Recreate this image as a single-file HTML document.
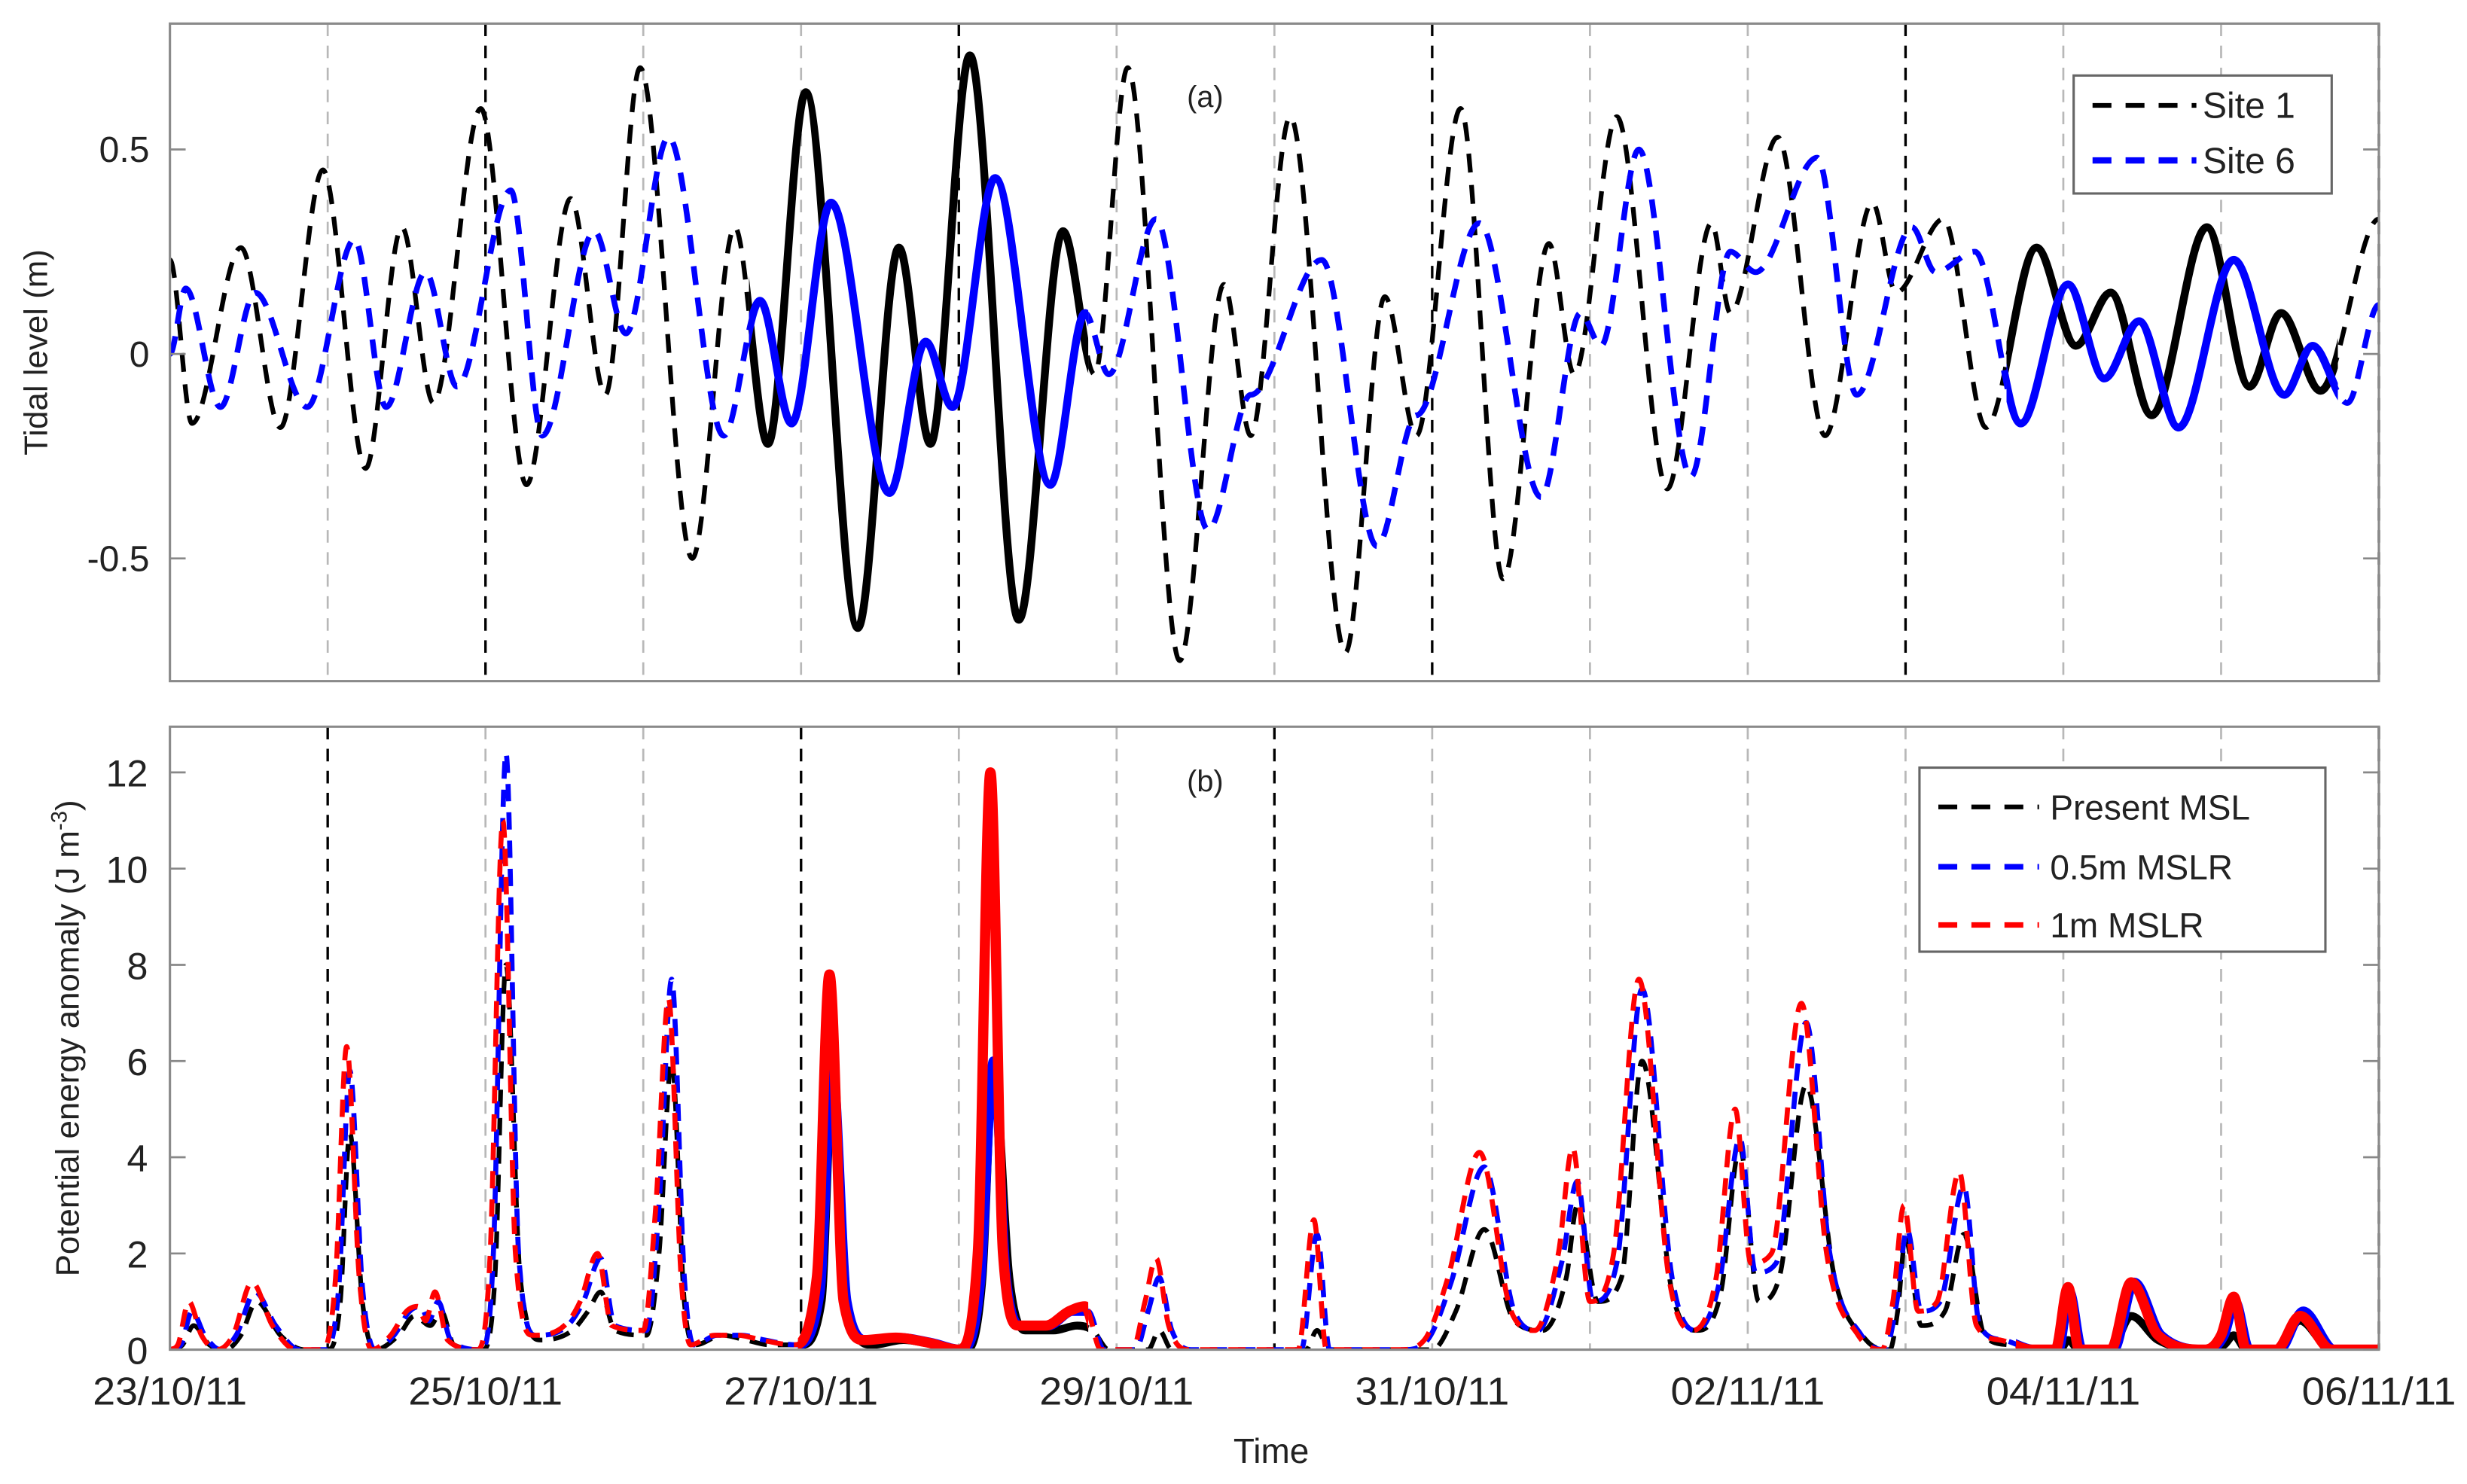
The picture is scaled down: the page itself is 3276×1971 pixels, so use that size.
<!DOCTYPE html>
<html><head><meta charset="utf-8"><style>
html,body{margin:0;padding:0;background:#fff}
svg{display:block}
text{font-family:"Liberation Sans",Arial,sans-serif;fill:#222}
</style></head><body>
<svg id="chart" width="3276" height="1971" viewBox="0 0 1568 943.4" preserveAspectRatio="none" xmlns="http://www.w3.org/2000/svg">
<defs>
<clipPath id="clipTop"><rect x="108" y="15" width="1404" height="418"/></clipPath>
<clipPath id="clipBot"><rect x="108" y="462" width="1404" height="396"/></clipPath>
</defs>
<g id="gridTop"></g>
<g id="gridBot"></g>
<g id="seriesTop" clip-path="url(#clipTop)"></g>
<g id="seriesBot" clip-path="url(#clipBot)"></g>
<rect x="108" y="15" width="1404" height="418" fill="none" stroke="#8a8a8a" stroke-width="1.5"/>
<rect x="108" y="462" width="1404" height="396" fill="none" stroke="#8a8a8a" stroke-width="1.5"/>
<g id="axes"></g>
<text transform="translate(30,224) rotate(-90)" text-anchor="middle" font-size="21">Tidal level (m)</text>
<text transform="translate(50,660) rotate(-90)" text-anchor="middle" font-size="21">Potential energy anomaly (J m<tspan baseline-shift="super" font-size="14">-3</tspan>)</text>
<text x="808" y="930" text-anchor="middle" font-size="22">Time</text>
<text x="766" y="68" text-anchor="middle" font-size="19">(a)</text>
<text x="766" y="503" text-anchor="middle" font-size="19">(b)</text>
<g>
<rect x="1318" y="48" width="164" height="75" fill="#fff" stroke="#666" stroke-width="1.5"/>
<line x1="1330" y1="67" x2="1396" y2="67" stroke="#000" stroke-width="3" stroke-dasharray="12 9"/>
<text x="1400" y="75" font-size="23">Site 1</text>
<line x1="1330" y1="102" x2="1396" y2="102" stroke="#0000ff" stroke-width="4" stroke-dasharray="12 9"/>
<text x="1400" y="110" font-size="23">Site 6</text>
</g>
<g>
<rect x="1220" y="488" width="258" height="117" fill="#fff" stroke="#666" stroke-width="1.5"/>
<line x1="1232" y1="513" x2="1296" y2="513" stroke="#000" stroke-width="3" stroke-dasharray="12 9"/>
<text x="1303" y="521" font-size="22">Present MSL</text>
<line x1="1232" y1="551" x2="1296" y2="551" stroke="#0000ff" stroke-width="3.5" stroke-dasharray="12 9"/>
<text x="1303" y="559" font-size="22">0.5m MSLR</text>
<line x1="1232" y1="588" x2="1296" y2="588" stroke="#ff0000" stroke-width="3.5" stroke-dasharray="12 9"/>
<text x="1303" y="596" font-size="22">1m MSLR</text>
</g>
</svg>
<script>
// ---- data ----
const xTickLabels = ["23/10/11","25/10/11","27/10/11","29/10/11","31/10/11","02/11/11","04/11/11","06/11/11"];
const topYTicks = [-0.5, 0, 0.5];
const topYTickLabels = ["-0.5","0","0.5"];
const botYTicks = [0,2,4,6,8,10,12];
const topBlackDays = [2,5,8,11,14];
const botBlackDays = [1,4,7,14];
const topSolidRanges = [[3.67,5.82],[11.64,13.74]];
const botSolidRanges = [[3.98,5.82],[11.7,14]];
// tidal extremes [day, metres]
const site1 = [[0,0.23],[0.14,-0.17],[0.45,0.26],[0.7,-0.18],[0.97,0.45],[1.24,-0.28],[1.47,0.31],[1.67,-0.12],[1.97,0.6],[2.26,-0.32],[2.54,0.38],[2.76,-0.1],[2.98,0.7],[3.31,-0.5],[3.58,0.31],[3.79,-0.22],[4.03,0.64],[4.36,-0.67],[4.62,0.26],[4.82,-0.22],[5.07,0.73],[5.38,-0.65],[5.66,0.3],[5.86,-0.05],[6.07,0.7],[6.4,-0.75],[6.68,0.17],[6.85,-0.2],[7.1,0.58],[7.45,-0.73],[7.7,0.14],[7.9,-0.2],[8.18,0.6],[8.45,-0.55],[8.74,0.27],[8.9,-0.05],[9.17,0.58],[9.49,-0.33],[9.77,0.32],[9.89,0.1],[10.19,0.53],[10.49,-0.2],[10.79,0.37],[10.94,0.15],[11.24,0.33],[11.51,-0.18],[11.83,0.26],[12.08,0.02],[12.3,0.15],[12.56,-0.15],[12.91,0.31],[13.18,-0.08],[13.38,0.1],[13.63,-0.09],[14,0.33]];
const site6 = [[0,0.0],[0.1,0.16],[0.32,-0.13],[0.54,0.15],[0.87,-0.13],[1.17,0.28],[1.37,-0.13],[1.62,0.2],[1.82,-0.08],[2.16,0.4],[2.36,-0.2],[2.69,0.3],[2.89,0.05],[3.16,0.53],[3.51,-0.2],[3.74,0.13],[3.94,-0.17],[4.19,0.37],[4.56,-0.34],[4.79,0.03],[4.96,-0.13],[5.23,0.43],[5.58,-0.32],[5.8,0.1],[5.95,-0.05],[6.25,0.33],[6.58,-0.43],[6.85,-0.1],[7.3,0.23],[7.65,-0.47],[7.9,-0.15],[8.3,0.32],[8.69,-0.35],[8.94,0.1],[9.07,0.02],[9.31,0.5],[9.64,-0.3],[9.89,0.25],[10.05,0.2],[10.44,0.48],[10.69,-0.1],[11.04,0.31],[11.19,0.2],[11.44,0.25],[11.73,-0.17],[12.03,0.17],[12.26,-0.06],[12.48,0.08],[12.73,-0.18],[13.08,0.23],[13.4,-0.1],[13.58,0.02],[13.8,-0.12],[14,0.12]];
// PEA [day, J m^-3]
const peaRed = [[0,0],[0.05,0.1],[0.12,1.0],[0.2,0.3],[0.3,0],[0.4,0.3],[0.52,1.4],[0.65,0.5],[0.8,0],[0.97,0],[1.05,1.5],[1.12,6.3],[1.2,1.5],[1.28,0],[1.4,0.3],[1.5,0.8],[1.57,0.9],[1.62,0.6],[1.68,1.2],[1.76,0.2],[1.95,0],[2.03,2],[2.11,11],[2.19,2],[2.3,0.3],[2.5,0.5],[2.6,1.0],[2.71,2.0],[2.8,0.5],[3.0,0.4],[3.08,3],[3.16,7.3],[3.24,1.5],[3.3,0.1],[3.45,0.3],[3.6,0.3],[3.75,0.2],[3.95,0.1],[4.1,1.5],[4.18,7.8],[4.27,1],[4.4,0.2],[4.6,0.25],[4.8,0.15],[5.0,0],[5.12,2],[5.2,12],[5.28,2],[5.38,0.5],[5.55,0.5],[5.7,0.8],[5.8,0.9],[5.9,0],[6.1,0],[6.18,1],[6.25,1.9],[6.33,0.5],[6.45,0],[7.15,0],[7.25,2.7],[7.33,0],[7.8,0],[7.95,0.2],[8.1,1.5],[8.3,4.1],[8.5,0.8],[8.65,0.4],[8.8,2],[8.89,4.2],[9.0,1.0],[9.15,2],[9.31,7.7],[9.5,1.5],[9.65,0.4],[9.8,1.5],[9.92,5.0],[10.02,1.8],[10.15,2],[10.34,7.2],[10.5,2],[10.7,0.3],[10.85,0],[10.92,1],[10.99,3.0],[11.08,0.8],[11.2,1],[11.34,3.7],[11.45,0.5],[11.6,0.2],[11.8,0],[11.95,0],[12.03,1.3],[12.1,0],[12.3,0],[12.43,1.4],[12.6,0.3],[12.9,0],[13.0,0.3],[13.08,1.1],[13.16,0],[13.35,0],[13.5,0.7],[13.7,0],[14,0]];
const peaBlue = [[0,0],[0.07,0.1],[0.14,0.8],[0.22,0.3],[0.32,0],[0.42,0.3],[0.54,1.2],[0.67,0.5],[0.82,0],[0.99,0],[1.07,1.3],[1.14,5.8],[1.22,1.3],[1.3,0],[1.42,0.3],[1.52,0.8],[1.59,0.9],[1.64,0.6],[1.7,1.0],[1.78,0.2],[1.97,0],[2.05,2],[2.13,12.4],[2.21,2],[2.32,0.3],[2.52,0.5],[2.62,1.0],[2.73,1.9],[2.82,0.5],[3.02,0.4],[3.1,3],[3.18,7.7],[3.26,1.5],[3.32,0.1],[3.47,0.3],[3.62,0.3],[3.77,0.2],[3.97,0.1],[4.12,1.2],[4.2,5.8],[4.29,1],[4.42,0.2],[4.62,0.25],[4.82,0.15],[5.02,0],[5.14,1.5],[5.22,6],[5.3,1.5],[5.4,0.5],[5.57,0.5],[5.72,0.8],[5.82,0.8],[5.92,0],[6.12,0],[6.2,0.8],[6.27,1.5],[6.35,0.4],[6.47,0],[7.17,0],[7.27,2.4],[7.35,0],[7.82,0],[7.97,0.2],[8.12,1.4],[8.33,3.8],[8.52,0.8],[8.67,0.4],[8.82,1.8],[8.92,3.5],[9.02,1.0],[9.17,1.8],[9.33,7.5],[9.52,1.5],[9.67,0.4],[9.82,1.4],[9.95,4.4],[10.05,1.6],[10.18,1.8],[10.37,6.8],[10.52,2],[10.72,0.3],[10.87,0],[10.94,0.9],[11.01,2.5],[11.1,0.8],[11.22,1],[11.37,3.4],[11.47,0.5],[11.62,0.2],[11.82,0],[11.97,0],[12.04,1.2],[12.12,0],[12.32,0],[12.45,1.4],[12.62,0.3],[12.92,0],[13.02,0.3],[13.09,1.0],[13.18,0],[13.37,0],[13.52,0.8],[13.72,0],[14,0]];
const peaBlack = [[0,0],[0.08,0.1],[0.15,0.5],[0.25,0.1],[0.35,0],[0.45,0.3],[0.55,1.0],[0.7,0.3],[0.85,0],[1.0,0],[1.08,1],[1.14,4.5],[1.22,1],[1.3,0],[1.45,0.3],[1.55,0.7],[1.65,0.5],[1.72,0.8],[1.8,0.1],[1.98,0],[2.06,1.5],[2.13,8],[2.22,1.5],[2.35,0.2],[2.55,0.4],[2.65,0.8],[2.73,1.2],[2.82,0.4],[3.02,0.3],[3.1,2],[3.18,6],[3.26,1],[3.33,0.1],[3.5,0.3],[3.65,0.2],[3.8,0.1],[4.0,0.1],[4.13,1],[4.2,5.5],[4.3,0.8],[4.45,0.1],[4.65,0.2],[4.85,0.1],[5.05,0],[5.15,1.5],[5.22,6],[5.32,1.5],[5.42,0.4],[5.6,0.4],[5.75,0.5],[5.85,0.4],[5.95,0],[6.2,0],[6.27,0.4],[6.35,0],[7.2,0],[7.27,0.4],[7.35,0],[8.0,0],[8.15,0.8],[8.33,2.5],[8.52,0.6],[8.7,0.4],[8.85,1.5],[8.92,3.0],[9.05,1.0],[9.2,1.5],[9.33,6.0],[9.52,1.2],[9.68,0.4],[9.83,1.2],[9.95,4.2],[10.07,1.0],[10.2,1.5],[10.37,5.5],[10.55,1.5],[10.75,0.2],[10.9,0],[10.95,0.8],[11.0,2.3],[11.1,0.5],[11.25,0.8],[11.37,2.4],[11.5,0.3],[11.65,0.1],[11.85,0],[11.98,0],[12.03,0.2],[12.1,0],[12.3,0],[12.43,0.7],[12.6,0.2],[12.9,0],[13.02,0.1],[13.08,0.3],[13.16,0],[13.35,0],[13.5,0.6],[13.7,0],[14,0]];

// ---- axes functions ----
const X0=108, X1=1512, DAYS=14;
const xs = d => X0 + (X1-X0)*d/DAYS;
const yTop = v => 225 - 260*v;
const yBot = v => 858 - 30.58*v;
const NS="http://www.w3.org/2000/svg";
function mk(tag, attrs, parent){const e=document.createElementNS(NS,tag);for(const k in attrs)e.setAttribute(k,attrs[k]);parent.appendChild(e);return e;}
const svg=document.getElementById('chart');
const defs=svg.querySelector('defs');

function grid(gid, y0, y1, blackDays){
  const g=document.getElementById(gid);
  for(let d=1; d<=14; d++){
    const black = blackDays.includes(d);
    const l=mk('line',{x1:xs(d),x2:xs(d),y1:y0,y2:y1,stroke:black?'#000':'#b8b8b8','stroke-width':black?1.6:1.3,'stroke-dasharray':'8 6'},g);
    
    
  }
}
grid('gridTop',15,433,topBlackDays);
grid('gridBot',462,858,botBlackDays);

const axes=document.getElementById('axes');
topYTicks.forEach((v,i)=>{
  const y=yTop(v);
  mk('line',{x1:108,x2:118,y1:y,y2:y,stroke:'#888','stroke-width':1.3},axes);
  mk('line',{x1:1502,x2:1512,y1:y,y2:y,stroke:'#888','stroke-width':1.3},axes);
  const t=mk('text',{x:95,y:y+8,'text-anchor':'end','font-size':23},axes);
  t.textContent=topYTickLabels[i];
  
  
});
botYTicks.forEach(v=>{
  const y=yBot(v);
  mk('line',{x1:108,x2:118,y1:y,y2:y,stroke:'#888','stroke-width':1.3},axes);
  mk('line',{x1:1502,x2:1512,y1:y,y2:y,stroke:'#888','stroke-width':1.3},axes);
  const t=mk('text',{x:94,y:y+9,'text-anchor':'end','font-size':24},axes);
  t.textContent=String(v);
  
  
});
xTickLabels.forEach((s,i)=>{
  const x=xs(i*2);
  const t=mk('text',{x:x,y:893,'text-anchor':'middle','font-size':25,textLength:98,lengthAdjust:'spacingAndGlyphs'},axes);
  t.textContent=s;
  
  
});

function makeClips(id, ranges, y0, h){
  const cin=mk('clipPath',{id:id+'In'},defs);
  ranges.forEach(r=>mk('rect',{x:xs(r[0]),y:y0,width:xs(r[1])-xs(r[0]),height:h},cin));
  const cout=mk('clipPath',{id:id+'Out'},defs);
  let prev=0;
  ranges.concat([[DAYS,DAYS]]).forEach(r=>{ if(r[0]>prev) mk('rect',{x:xs(prev),y:y0,width:xs(r[0])-xs(prev),height:h},cout); prev=r[1]; });
}
makeClips('top',topSolidRanges,0,460);
makeClips('bot',botSolidRanges,455,420);

function smoothPath(pts, fx, fy){
  const P=pts.map(p=>[fx(p[0]),fy(p[1])]);
  let d='M'+P[0][0]+','+P[0][1];
  for(let i=0;i<P.length-1;i++){
    const p1=P[i],p2=P[i+1];
    const c1=[p1[0]+(p2[0]-p1[0])/3, p1[1]];
    const c2=[p2[0]-(p2[0]-p1[0])/3, p2[1]];
    d+=' C'+c1[0]+','+c1[1]+' '+c2[0]+','+c2[1]+' '+p2[0]+','+p2[1];
  }
  return d;
}
function monoPath(pts, fx, fy){
  const P=pts.map(p=>[fx(p[0]),fy(p[1])]);
  const n=P.length, dl=[], m=[];
  for(let i=0;i<n-1;i++) dl.push((P[i+1][1]-P[i][1])/(P[i+1][0]-P[i][0]));
  m[0]=dl[0]; m[n-1]=dl[n-2];
  for(let i=1;i<n-1;i++){ m[i] = (dl[i-1]*dl[i]<=0)?0:(dl[i-1]+dl[i])/2; }
  for(let i=0;i<n-1;i++){
    if(dl[i]===0){m[i]=0;m[i+1]=0;continue;}
    const a=m[i]/dl[i], b=m[i+1]/dl[i], s=a*a+b*b;
    if(s>9){const t=3/Math.sqrt(s); m[i]=t*a*dl[i]; m[i+1]=t*b*dl[i];}
  }
  let d='M'+P[0][0].toFixed(2)+','+P[0][1].toFixed(2);
  for(let i=0;i<n-1;i++){
    const h=(P[i+1][0]-P[i][0])/3;
    d+=' C'+(P[i][0]+h).toFixed(2)+','+(P[i][1]+m[i]*h).toFixed(2)+' '+(P[i+1][0]-h).toFixed(2)+','+(P[i+1][1]-m[i+1]*h).toFixed(2)+' '+P[i+1][0].toFixed(2)+','+P[i+1][1].toFixed(2);
  }
  return d;
}

const st=document.getElementById('seriesTop');
[[site1,'#000',3,5,'site-1'],[site6,'#0000ff',3.6,5,'site-6']].forEach(s=>{
  const d=smoothPath(s[0],xs,yTop);
  const a=mk('path',{d:d,fill:'none',stroke:s[1],'stroke-width':s[2],'stroke-dasharray':'12 8','clip-path':'url(#topOut)'},st);
  
  
  const b=mk('path',{d:d,fill:'none',stroke:s[1],'stroke-width':s[3],'stroke-linejoin':'round','clip-path':'url(#topIn)'},st);
  
  
});

const sb=document.getElementById('seriesBot');
[[peaBlack,'#000',3,5,'present-msl'],[peaBlue,'#0000ff',3.2,6,'mslr-0-5m'],[peaRed,'#ff0000',3.2,6.5,'mslr-1m']].forEach(s=>{
  const d=monoPath(s[0],xs,yBot);
  const a=mk('path',{d:d,fill:'none',stroke:s[1],'stroke-width':s[2],'stroke-dasharray':'11 7','stroke-linejoin':'round','clip-path':'url(#botOut)'},sb);
  
  
  const b=mk('path',{d:d,fill:'none',stroke:s[1],'stroke-width':s[3],'stroke-linejoin':'round','clip-path':'url(#botIn)'},sb);
  
  
});
</script>
</body></html>
